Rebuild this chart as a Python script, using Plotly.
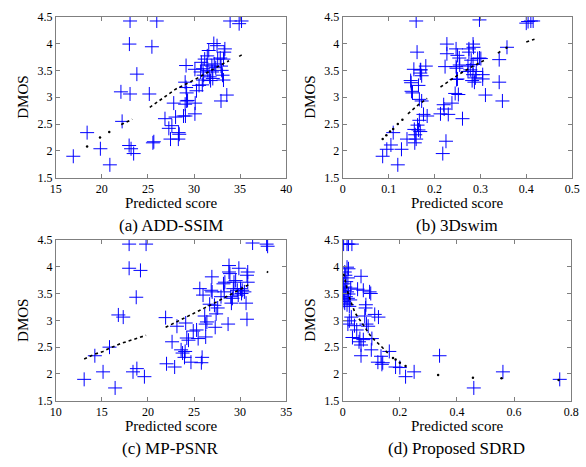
import plotly.graph_objects as go

# ---------------- data ----------------
# (a) ADD-SSIM
a_x = [16.9, 18.4, 19.84, 20.87, 22.2, 22.07, 23.06, 22.99, 23.06, 22.96, 23.17, 23.45, 23.8,
       25.15, 25.96, 25.43, 25.54, 25.64, 26.85, 27.27, 27.6, 27.45, 27.8, 28.0, 28.3, 28.33,
       28.4, 28.86, 29.07, 29.04, 29.14, 29.04, 29.14, 29.2, 29.2, 29.3, 30.1, 30.13, 30.1,
       30.27, 30.55, 30.72, 30.8, 30.98, 30.98, 30.9, 31.05, 31.16, 31.44, 31.4, 31.5, 31.6,
       31.7, 31.8, 31.94, 31.97, 32.15, 32.04, 32.2, 32.5, 32.36, 32.57, 32.85, 32.93, 33.0,
       32.93, 33.1, 33.2, 33.28, 33.35, 33.2, 33.56, 33.92, 34.9, 35.16]
a_y = [1.9, 2.34, 2.04, 1.74, 2.55, 3.1, 4.42, 3.99, 3.06, 2.1, 2.04, 1.95, 3.43,
       3.06, 4.42, 3.94, 2.15, 2.17, 2.6, 2.42, 2.47, 2.22, 2.89, 2.63, 2.22, 2.34,
       2.31, 2.65, 2.65, 2.87, 3.59, 3.28, 3.18, 3.08, 2.93, 2.94, 2.69, 2.89, 3.52,
       3.12, 3.22, 3.47, 3.65, 3.53, 3.32, 3.23, 3.41, 3.71, 3.77, 3.6, 3.5, 3.87,
       3.38, 3.31, 3.58, 3.47, 4.0, 3.35, 3.62, 3.96, 3.55, 3.71, 3.73, 3.58, 3.5,
       2.93, 3.41, 3.32, 3.84, 3.9, 3.71, 3.04, 4.42, 4.37, 4.42]
a_fit_x = [22.1, 23.3, None, 25.2, 27.0, 28.0, 30.0, 31.5, 33.0, 33.8, None, 34.9, 35.3]
a_fit_y = [2.49, 2.59, None, 2.81, 3.03, 3.15, 3.32, 3.47, 3.61, 3.68, None, 3.76, 3.8]
a_dot_x = [18.4, 19.8, 20.8]
a_dot_y = [2.08, 2.25, 2.35]

# (b) 3Dswim
b_x = [0.16, 0.087, 0.096, 0.105, 0.12, 0.128, 0.11, 0.14, 0.149, 0.148, 0.15, 0.152, 0.155,
       0.156, 0.157, 0.158, 0.16, 0.162, 0.163, 0.165, 0.165, 0.167, 0.169, 0.169, 0.169,
       0.172, 0.17, 0.167, 0.172, 0.176, 0.181, 0.184, 0.213, 0.22, 0.221, 0.218, 0.225,
       0.227, 0.227, 0.223, 0.23, 0.238, 0.245, 0.247, 0.25, 0.247, 0.248, 0.298, 0.404,
       0.41, 0.415, 0.4, 0.358, 0.341, 0.341, 0.348, 0.311, 0.261, 0.252, 0.254, 0.255,
       0.248, 0.25, 0.275, 0.275, 0.284, 0.285, 0.273, 0.273, 0.278, 0.28, 0.284, 0.284,
       0.282, 0.287, 0.291, 0.294, 0.298, 0.301, 0.305, 0.305, 0.289]
b_y = [4.42, 1.9, 2.03, 2.11, 1.74, 2.03, 2.34, 2.22, 3.27, 3.31, 3.11, 3.08, 3.52,
       2.4, 2.15, 2.3, 2.22, 3.84, 2.48, 3.22, 2.39, 2.57, 2.36, 3.51, 3.45,
       3.4, 3.51, 2.96, 2.93, 2.68, 3.58, 2.65, 2.69, 2.86, 2.78, 1.95, 2.18,
       3.99, 3.81, 3.57, 2.68, 2.89, 3.07, 3.9, 3.78, 3.57, 3.33, 4.44, 4.41,
       4.42, 4.42, 4.38, 3.93, 3.7, 3.28, 2.93, 3.04, 2.6, 3.05, 3.73, 3.6,
       3.54, 3.34, 3.9, 3.84, 3.99, 3.93, 3.58, 3.48, 3.51, 3.69, 3.61, 3.42,
       3.31, 3.28, 3.48, 3.72, 3.73, 3.72, 3.42, 3.34, 3.36]
b_fit_x = [0.142, 0.165, 0.184, None, 0.213, 0.234, 0.252, 0.28, 0.311, None, 0.338, 0.345, None, 0.4, 0.418]
b_fit_y = [2.69, 2.86, 2.98, None, 3.19, 3.31, 3.42, 3.56, 3.7, None, 3.82, 3.86, None, 4.03, 4.08]
b_dot_x = [0.087, 0.095, 0.103, 0.11, 0.12, 0.13, 0.357]
b_dot_y = [2.22, 2.29, 2.36, 2.41, 2.5, 2.58, 3.92]

# (c) MP-PSNR
c_x = [13.08, 14.24, 15.13, 15.83, 16.44, 16.79, 17.32, 17.96, 17.96, 19.19, 18.73, 18.38,
       18.8, 19.62, 19.8, 21.92, 22.02, 22.62, 22.9, 23.15, 23.6, 23.76, 23.97, 24.04, 24.22,
       24.4, 24.1, 24.67, 24.92, 25.28, 25.45, 25.63, 25.8, 25.88, 25.98, 26.16, 26.27, 26.4,
       26.27, 26.87, 26.94, 26.97, 26.7, 27.22, 27.3, 27.4, 27.57, 27.93, 28.2, 28.35, 28.28,
       28.7, 28.8, 28.8, 28.9, 28.99, 29.06, 29.17, 29.27, 29.34, 29.52, 29.7, 29.8, 29.87,
       30.05, 30.16, 30.23, 30.47, 30.65, 30.75, 30.83, 30.83, 30.75, 31.36, 32.88, 32.99]
c_y = [1.9, 2.34, 2.04, 2.5, 1.74, 3.1, 3.06, 4.42, 3.97, 3.93, 3.43, 2.04,
       2.1, 1.95, 4.42, 3.05, 2.19, 2.6, 2.13, 2.89, 2.45, 2.39, 2.31, 2.42, 2.67,
       2.63, 2.95, 2.22, 2.8, 2.82, 2.66, 3.59, 2.21, 2.31, 3.47, 3.08, 2.93, 2.97,
       2.69, 3.56, 3.81, 3.53, 3.3, 3.28, 2.87, 3.12, 3.23, 3.44, 3.68, 3.71, 3.53,
       2.93, 4.02, 3.9, 3.87, 3.44, 3.32, 3.41, 3.59, 3.71, 3.74, 3.56, 3.47, 3.97,
       3.59, 3.5, 3.56, 3.53, 3.32, 3.84, 3.9, 3.71, 3.02, 4.44, 4.42, 4.38]
c_fit_x = [13.08, 14.24, 15.13, 15.83, 17.1, 18.38, 19.8, None, 21.92, 22.6, 23.7, 25.8, 27.2, 28.6, 30.05, 31.0, None, 32.9, 33.05]
c_fit_y = [2.28, 2.37, 2.42, 2.48, 2.57, 2.64, 2.72, None, 2.87, 2.93, 3.02, 3.2, 3.32, 3.44, 3.58, 3.67, None, 3.89, 3.91]
c_dot_x = []
c_dot_y = []

# (d) Proposed SDRD
d_x = [0.003, 0.015, 0.02, 0.032, 0.015, 0.02, 0.007, 0.009, 0.018, 0.064,
       0.003, 0.009, 0.007, 0.015, 0.003, 0.02, 0.011, 0.018, 0.026, 0.007, 0.015, 0.023,
       0.012, 0.028, 0.005,
       0.052, 0.072, 0.094, 0.098, 0.081, 0.08, 0.112, 0.125, 0.03, 0.023, 0.018,
       0.077, 0.083, 0.089, 0.041, 0.049, 0.034, 0.06, 0.072, 0.057, 0.064, 0.102,
       0.064, 0.1, 0.134, 0.123, 0.14, 0.137, 0.163, 0.185, 0.2, 0.22, 0.25,
       0.339, 0.459, 0.561, 0.76]
d_y = [4.42, 4.42, 4.42, 4.42, 3.99, 3.96, 3.9, 3.84, 3.79, 3.82,
       3.68, 3.62, 3.56, 3.53, 3.5, 3.49, 3.44, 3.41, 3.38, 3.32, 3.29, 3.26,
       3.72, 3.6, 3.35,
       3.58, 3.56, 3.53, 3.5, 3.29, 3.23, 3.11, 3.06, 3.06, 2.99, 2.93,
       3.08, 2.93, 2.89, 2.9, 2.82, 2.68, 2.66, 2.64, 2.6, 2.54, 2.66,
       2.34, 2.45, 2.33, 2.22, 2.21, 2.18, 2.42, 2.13, 2.12, 1.95, 2.04,
       2.34, 1.74, 2.04, 1.9]
d_fit_x = [0.003, 0.02, 0.043, 0.072, 0.1, 0.134, 0.163]
d_fit_y = [3.87, 3.47, 3.14, 2.9, 2.69, 2.52, 2.36]
d_dot_x = [0.176, 0.185, 0.2, 0.22, 0.334, 0.456, 0.556, 0.756]
d_dot_y = [2.3, 2.27, 2.21, 2.15, 1.98, 1.93, 1.92, 1.89]

# axes / labels
y_ticks = [1.5, 2, 2.5, 3, 3.5, 4, 4.5]
y_ticktext = ["1.5", "2", "2.5", "3", "3.5", "4", "4.5"]
a_xticks = [15, 20, 25, 30, 35, 40]
b_xticks = [0, 0.1, 0.2, 0.3, 0.4, 0.5]
c_xticks = [10, 15, 20, 25, 30, 35]
d_xticks = [0, 0.2, 0.4, 0.6, 0.8]
b_xticktext = ["0", "0.1", "0.2", "0.3", "0.4", "0.5"]
d_xticktext = ["0", "0.2", "0.4", "0.6", "0.8"]
captions = ["(a) ADD-SSIM", "(b) 3Dswim", "(c) MP-PSNR", "(d) Proposed SDRD"]
x_title = "Predicted score"
y_title = "DMOS"

# ---------------- figure ----------------
W, H = 586, 467
FONT = "Liberation Serif, Times New Roman, serif"
BLUE = "#0000FF"

# pixel boxes for the 4 panels: (left, right, top, bottom)
boxes = [(51, 287, 10, 176), (345, 580, 10, 176), (51, 287, 240, 406), (345, 579, 240, 406)]

panels = [
    (a_x, a_y, a_fit_x, a_fit_y, a_dot_x, a_dot_y, [15, 40], a_xticks, [str(v) for v in a_xticks]),
    (b_x, b_y, b_fit_x, b_fit_y, b_dot_x, b_dot_y, [0, 0.5], b_xticks, b_xticktext),
    (c_x, c_y, c_fit_x, c_fit_y, c_dot_x, c_dot_y, [10, 35], c_xticks, [str(v) for v in c_xticks]),
    (d_x, d_y, d_fit_x, d_fit_y, d_dot_x, d_dot_y, [0, 0.8], d_xticks, d_xticktext),
]

fig = go.Figure()
annotations = []
layout_axes = {}
for i, (px, py, fx, fy, dx, dy, xr, xt, xtt) in enumerate(panels):
    n = "" if i == 0 else str(i + 1)
    xa, ya = "x" + n, "y" + n
    l, r, t, b = boxes[i]
    fig.add_trace(go.Scatter(x=px, y=py, mode="markers", xaxis=xa, yaxis=ya,
                             marker=dict(symbol="cross-thin", size=10,
                                         line=dict(color=BLUE, width=1), color=BLUE),
                             showlegend=False, hoverinfo="skip"))
    fig.add_trace(go.Scatter(x=fx, y=fy, mode="lines", xaxis=xa, yaxis=ya,
                             line=dict(color="black", width=1.6, dash="dot"),
                             connectgaps=False, showlegend=False, hoverinfo="skip"))
    if dx:
        fig.add_trace(go.Scatter(x=dx, y=dy, mode="markers", xaxis=xa, yaxis=ya,
                                 marker=dict(symbol="circle", size=2.5, color="black"),
                                 showlegend=False, hoverinfo="skip"))
    axcommon = dict(showline=True, mirror="ticks", linecolor="#7f7f7f", linewidth=1,
                    ticks="inside", ticklen=4, tickcolor="#7f7f7f", showgrid=False,
                    zeroline=False, tickfont=dict(family=FONT, size=12, color="black"))
    layout_axes["xaxis" + n] = dict(axcommon, domain=[l / W, r / W], range=xr,
                                    tickvals=xt, ticktext=xtt, anchor=ya)
    layout_axes["yaxis" + n] = dict(axcommon, domain=[1 - b / H, 1 - t / H], range=[1.5, 4.5],
                                    tickvals=y_ticks, ticktext=y_ticktext, anchor=xa)
    cx = (l + r) / 2 / W
    annotations.append(dict(text=x_title, x=cx, y=1 - (b + 26) / H, xref="paper", yref="paper",
                            showarrow=False, xanchor="center", yanchor="middle",
                            font=dict(family=FONT, size=15, color="black")))
    annotations.append(dict(text=captions[i], x=cx, y=1 - (b + 49) / H, xref="paper", yref="paper",
                            showarrow=False, xanchor="center", yanchor="middle",
                            font=dict(family=FONT, size=17, color="black")))
    annotations.append(dict(text=y_title, x=(l - 33) / W, y=1 - (t + b) / 2 / H, xref="paper", yref="paper",
                            showarrow=False, xanchor="center", yanchor="middle", textangle=-90,
                            font=dict(family=FONT, size=15, color="black")))

fig.update_layout(width=W, height=H, margin=dict(l=0, r=0, t=0, b=0),
                  paper_bgcolor="white", plot_bgcolor="white",
                  annotations=annotations, **layout_axes)
fig.write_html("out.html", config={"displayModeBar": False},
               post_script="document.body.style.margin='0';document.body.style.overflow='hidden';")
